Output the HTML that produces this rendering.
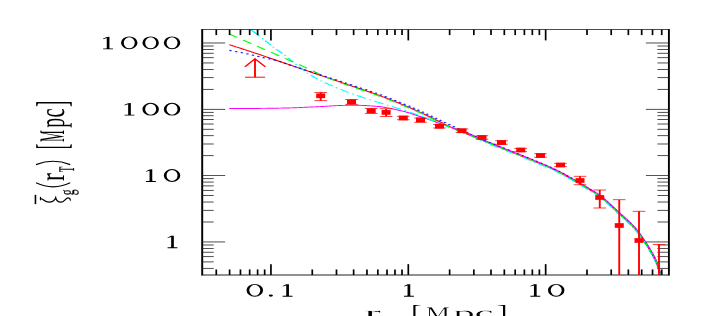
<!DOCTYPE html>
<html><head><meta charset="utf-8"><title>plot</title>
<style>
html,body{margin:0;padding:0;background:#fff;}
body{width:728px;height:316px;overflow:hidden;font-family:"Liberation Serif",serif;}
svg{display:block}
text{font-family:"Liberation Serif",serif;fill:#000;stroke:none;text-rendering:geometricPrecision;}
text.sub{stroke:#000;stroke-width:0.12px;}
</style></head><body>
<svg width="728" height="316" viewBox="0 0 728 316">
<defs><filter id="gs" x="0" y="0" width="728" height="316" filterUnits="userSpaceOnUse"><feColorMatrix type="saturate" values="0"/></filter></defs>
<rect width="728" height="316" fill="#fff"/>
<g transform="scale(2,1)">
<path d="M114.70,44.70 L115.24,45.04 L115.78,45.39 L116.32,45.73 L116.86,46.08 L117.40,46.43 L117.94,46.78 L118.48,47.12 L119.02,47.47 L119.56,47.82 L120.10,48.17 L120.64,48.52 L121.18,48.87 L121.72,49.23 L122.26,49.58 L122.80,49.93 L123.34,50.29 L123.88,50.64 L124.42,51.00 L124.96,51.35 L125.50,51.71 L126.04,52.07 L126.58,52.42 L127.12,52.78 L127.66,53.14 L128.20,53.50 L128.74,53.86 L129.28,54.22 L129.82,54.58 L130.36,54.94 L130.90,55.31 L131.44,55.67 L131.98,56.04 L132.52,56.40 L133.06,56.77 L133.60,57.14 L134.14,57.51 L134.68,57.88 L135.22,58.25 L135.76,58.63 L136.30,59.00 L136.84,59.37 L137.38,59.74 L137.92,60.12 L138.46,60.49 L139.00,60.87 L139.54,61.24 L140.08,61.61 L140.62,61.99 L141.16,62.36 L141.71,62.73 L142.25,63.11 L142.79,63.48 L143.33,63.85 L143.87,64.22 L144.41,64.59 L144.95,64.96 L145.49,65.33 L146.03,65.70 L146.57,66.07 L147.11,66.44 L147.65,66.81 L148.19,67.17 L148.73,67.54 L149.27,67.91 L149.81,68.28 L150.35,68.64 L150.89,69.01 L151.43,69.38 L151.97,69.74 L152.51,70.11 L153.05,70.48 L153.59,70.84 L154.13,71.21 L154.67,71.58 L155.21,71.94 L155.75,72.31 L156.29,72.68 L156.83,73.04 L157.37,73.41 L157.91,73.78 L158.45,74.15 L158.99,74.51 L159.53,74.88 L160.07,75.25 L160.61,75.61 L161.15,75.98 L161.69,76.35 L162.23,76.71 L162.77,77.08 L163.31,77.45 L163.85,77.81 L164.39,78.18 L164.93,78.55 L165.47,78.91 L166.01,79.28 L166.55,79.65 L167.09,80.01 L167.63,80.38 L168.17,80.75 L168.71,81.11 L169.25,81.48 L169.79,81.85 L170.33,82.21 L170.87,82.58 L171.41,82.95 L171.95,83.32 L172.49,83.68 L173.03,84.05 L173.57,84.42 L174.11,84.79 L174.65,85.16 L175.19,85.53 L175.73,85.90 L176.27,86.27 L176.81,86.63 L177.35,87.00 L177.89,87.36 L178.43,87.73 L178.97,88.09 L179.51,88.46 L180.05,88.82 L180.59,89.18 L181.13,89.55 L181.67,89.91 L182.21,90.28 L182.75,90.64 L183.29,91.01 L183.83,91.38 L184.37,91.75 L184.91,92.12 L185.45,92.49 L185.99,92.87 L186.53,93.25 L187.07,93.63 L187.61,94.01 L188.15,94.39 L188.69,94.78 L189.23,95.17 L189.77,95.57 L190.31,95.96 L190.85,96.36 L191.39,96.77 L191.93,97.18 L192.47,97.59 L193.01,98.00 L193.55,98.42 L194.09,98.84 L194.63,99.27 L195.17,99.69 L195.72,100.12 L196.26,100.56 L196.80,100.99 L197.34,101.43 L197.88,101.86 L198.42,102.30 L198.96,102.74 L199.50,103.19 L200.04,103.63 L200.58,104.07 L201.12,104.52 L201.66,104.97 L202.20,105.42 L202.74,105.87 L203.28,106.32 L203.82,106.78 L204.36,107.24 L204.90,107.70 L205.44,108.16 L205.98,108.63 L206.52,109.10 L207.06,109.57 L207.60,110.05 L208.14,110.53 L208.68,111.01 L209.22,111.50 L209.76,111.99 L210.30,112.49 L210.84,112.99 L211.38,113.50 L211.92,114.02 L212.46,114.53 L213.00,115.05 L213.54,115.57 L214.08,116.10 L214.62,116.62 L215.16,117.15 L215.70,117.68 L216.24,118.20 L216.78,118.73 L217.32,119.26 L217.86,119.78 L218.40,120.30 L218.94,120.83 L219.48,121.35 L220.02,121.89 L220.56,122.42 L221.10,122.96 L221.64,123.50 L222.18,124.04 L222.72,124.58 L223.26,125.12 L223.80,125.65 L224.34,126.18 L224.88,126.71 L225.42,127.23 L225.96,127.74 L226.50,128.25 L227.04,128.75 L227.58,129.23 L228.12,129.71 L228.66,130.17 L229.20,130.62 L229.74,131.05 L230.28,131.49 L230.82,131.91 L231.36,132.34 L231.90,132.76 L232.44,133.18 L232.98,133.61 L233.52,134.04 L234.06,134.47 L234.60,134.91 L235.14,135.35 L235.68,135.80 L236.22,136.24 L236.76,136.68 L237.30,137.13 L237.84,137.57 L238.38,138.02 L238.92,138.46 L239.46,138.91 L240.00,139.35 L240.54,139.80 L241.08,140.24 L241.62,140.68 L242.16,141.13 L242.70,141.57 L243.24,142.01 L243.78,142.44 L244.32,142.88 L244.86,143.32 L245.40,143.76 L245.94,144.20 L246.48,144.64 L247.02,145.07 L247.56,145.51 L248.10,145.95 L248.64,146.38 L249.18,146.82 L249.73,147.25 L250.27,147.69 L250.81,148.12 L251.35,148.56 L251.89,148.99 L252.43,149.43 L252.97,149.86 L253.51,150.30 L254.05,150.73 L254.59,151.17 L255.13,151.60 L255.67,152.03 L256.21,152.47 L256.75,152.90 L257.29,153.32 L257.83,153.75 L258.37,154.18 L258.91,154.61 L259.45,155.03 L259.99,155.46 L260.53,155.89 L261.07,156.32 L261.61,156.75 L262.15,157.18 L262.69,157.61 L263.23,158.05 L263.77,158.48 L264.31,158.92 L264.85,159.36 L265.39,159.81 L265.93,160.25 L266.47,160.70 L267.01,161.14 L267.55,161.58 L268.09,162.02 L268.63,162.46 L269.17,162.91 L269.71,163.35 L270.25,163.79 L270.79,164.24 L271.33,164.69 L271.87,165.14 L272.41,165.60 L272.95,166.06 L273.49,166.52 L274.03,166.99 L274.57,167.46 L275.11,167.95 L275.65,168.43 L276.19,168.93 L276.73,169.43 L277.27,169.94 L277.81,170.45 L278.35,170.98 L278.89,171.52 L279.43,172.06 L279.97,172.62 L280.51,173.18 L281.05,173.75 L281.59,174.33 L282.13,174.91 L282.67,175.50 L283.21,176.10 L283.75,176.70 L284.29,177.30 L284.83,177.91 L285.37,178.53 L285.91,179.14 L286.45,179.76 L286.99,180.38 L287.53,181.00 L288.07,181.63 L288.61,182.25 L289.15,182.88 L289.69,183.50 L290.23,184.12 L290.77,184.75 L291.31,185.38 L291.85,186.01 L292.39,186.65 L292.93,187.30 L293.47,187.94 L294.01,188.60 L294.55,189.25 L295.09,189.92 L295.63,190.58 L296.17,191.24 L296.71,191.90 L297.25,192.56 L297.79,193.23 L298.33,193.93 L298.87,194.65 L299.41,195.41 L299.95,196.21 L300.49,197.04 L301.03,197.91 L301.57,198.79 L302.11,199.69 L302.65,200.61 L303.19,201.54 L303.74,202.50 L304.28,203.46 L304.82,204.44 L305.36,205.43 L305.90,206.43 L306.44,207.44 L306.98,208.45 L307.52,209.47 L308.06,210.49 L308.60,211.51 L309.14,212.53 L309.68,213.54 L310.22,214.54 L310.76,215.53 L311.30,216.51 L311.84,217.48 L312.38,218.45 L312.92,219.43 L313.46,220.41 L314.00,221.41 L314.54,222.43 L315.08,223.46 L315.62,224.53 L316.16,225.62 L316.70,226.76 L317.24,227.93 L317.78,229.15 L318.32,230.43 L318.86,231.80 L319.40,233.23 L319.94,234.72 L320.48,236.25 L321.02,237.81 L321.56,239.40 L322.10,240.99 L322.64,242.60 L323.18,244.24 L323.72,245.91 L324.26,247.63 L324.80,249.41 L325.34,251.25 L325.88,253.16 L326.42,255.09 L326.96,257.08 L327.50,259.19 L328.04,261.50 L328.58,264.10 L329.12,267.18 L329.66,270.82 L330.20,274.80" fill="none" stroke="#ff0000" stroke-width="0.95"  />
<path d="M114.62,108.50 L114.98,108.50 L115.34,108.50 L115.70,108.50 L116.06,108.50 L116.42,108.50 L116.78,108.50 L117.14,108.50 L117.50,108.50 L117.86,108.49 L118.22,108.49 L118.58,108.49 L118.94,108.49 L119.30,108.49 L119.66,108.49 L120.02,108.49 L120.38,108.48 L120.74,108.48 L121.10,108.48 L121.46,108.48 L121.82,108.47 L122.18,108.47 L122.54,108.47 L122.90,108.47 L123.26,108.46 L123.62,108.46 L123.98,108.46 L124.34,108.46 L124.70,108.45 L125.06,108.45 L125.42,108.45 L125.78,108.44 L126.14,108.44 L126.50,108.44 L126.86,108.43 L127.22,108.43 L127.58,108.43 L127.94,108.42 L128.30,108.42 L128.66,108.41 L129.02,108.41 L129.38,108.41 L129.74,108.40 L130.10,108.40 L130.46,108.39 L130.82,108.39 L131.18,108.38 L131.54,108.38 L131.90,108.37 L132.26,108.37 L132.62,108.36 L132.98,108.35 L133.34,108.34 L133.70,108.33 L134.06,108.33 L134.42,108.32 L134.78,108.31 L135.14,108.30 L135.50,108.29 L135.86,108.28 L136.22,108.26 L136.58,108.25 L136.94,108.24 L137.30,108.23 L137.66,108.22 L138.02,108.20 L138.38,108.19 L138.74,108.18 L139.10,108.16 L139.46,108.15 L139.82,108.13 L140.18,108.12 L140.54,108.10 L140.90,108.09 L141.26,108.07 L141.62,108.06 L141.98,108.04 L142.34,108.03 L142.70,108.01 L143.06,107.99 L143.42,107.98 L143.78,107.96 L144.14,107.94 L144.50,107.92 L144.86,107.91 L145.22,107.89 L145.58,107.87 L145.94,107.85 L146.30,107.82 L146.66,107.80 L147.02,107.77 L147.38,107.75 L147.74,107.72 L148.09,107.69 L148.45,107.66 L148.81,107.63 L149.17,107.60 L149.53,107.57 L149.89,107.53 L150.25,107.50 L150.61,107.47 L150.97,107.44 L151.33,107.40 L151.69,107.37 L152.05,107.34 L152.41,107.31 L152.77,107.28 L153.13,107.24 L153.49,107.21 L153.85,107.18 L154.21,107.15 L154.57,107.12 L154.93,107.08 L155.29,107.05 L155.65,107.02 L156.01,106.98 L156.37,106.95 L156.73,106.92 L157.09,106.88 L157.45,106.85 L157.81,106.81 L158.17,106.78 L158.53,106.74 L158.89,106.71 L159.25,106.67 L159.61,106.64 L159.97,106.60 L160.33,106.57 L160.69,106.53 L161.05,106.49 L161.41,106.45 L161.77,106.41 L162.13,106.37 L162.49,106.33 L162.85,106.28 L163.21,106.24 L163.57,106.19 L163.93,106.15 L164.29,106.11 L164.65,106.06 L165.01,106.02 L165.37,105.97 L165.73,105.93 L166.09,105.89 L166.45,105.85 L166.81,105.80 L167.17,105.76 L167.53,105.72 L167.89,105.69 L168.25,105.65 L168.61,105.61 L168.97,105.58 L169.33,105.55 L169.69,105.52 L170.05,105.49 L170.41,105.46 L170.77,105.44 L171.13,105.42 L171.49,105.40 L171.85,105.38 L172.21,105.37 L172.57,105.35 L172.93,105.33 L173.29,105.32 L173.65,105.30 L174.01,105.28 L174.37,105.27 L174.73,105.26 L175.09,105.24 L175.45,105.23 L175.81,105.22 L176.17,105.21 L176.53,105.21 L176.89,105.20 L177.25,105.20 L177.61,105.20 L177.97,105.21 L178.33,105.22 L178.69,105.23 L179.05,105.25 L179.41,105.28 L179.77,105.30 L180.13,105.33 L180.49,105.36 L180.85,105.39 L181.20,105.42 L181.56,105.45 L181.92,105.48 L182.28,105.51 L182.64,105.55 L183.00,105.59 L183.36,105.63 L183.72,105.67 L184.08,105.71 L184.44,105.76 L184.80,105.80 L185.16,105.85 L185.52,105.90 L185.88,105.96 L186.24,106.01 L186.60,106.07 L186.96,106.13 L187.32,106.19 L187.68,106.25 L188.04,106.31 L188.40,106.38 L188.76,106.45 L189.12,106.52 L189.48,106.59 L189.84,106.66 L190.20,106.74 L190.56,106.81 L190.92,106.90 L191.28,106.99 L191.64,107.10 L192.00,107.21 L192.36,107.32 L192.72,107.45 L193.08,107.58 L193.44,107.71 L193.80,107.84 L194.16,107.98 L194.52,108.12 L194.88,108.25 L195.24,108.39 L195.60,108.53 L195.96,108.68 L196.32,108.83 L196.68,108.98 L197.04,109.14 L197.40,109.29 L197.76,109.46 L198.12,109.62 L198.48,109.78 L198.84,109.95 L199.20,110.12 L199.56,110.29 L199.92,110.46 L200.28,110.63 L200.64,110.81 L201.00,110.98 L201.36,111.16 L201.72,111.33 L202.08,111.51 L202.44,111.70 L202.80,111.88 L203.16,112.07 L203.52,112.26 L203.88,112.46 L204.24,112.66 L204.60,112.86 L204.96,113.08 L205.32,113.29 L205.68,113.52 L206.04,113.75 L206.40,114.00 L206.76,114.25 L207.12,114.50 L207.48,114.75 L207.84,115.01 L208.20,115.26 L208.56,115.52 L208.92,115.77 L209.28,116.02 L209.64,116.26 L210.00,116.51 L210.36,116.75 L210.72,116.99 L211.08,117.23 L211.44,117.47 L211.80,117.72 L212.16,117.96 L212.52,118.20 L212.88,118.44 L213.24,118.69 L213.60,118.93 L213.96,119.18 L214.31,119.43 L214.67,119.67 L215.03,119.92 L215.39,120.18 L215.75,120.43 L216.11,120.69 L216.47,120.95 L216.83,121.21 L217.19,121.47 L217.55,121.73 L217.91,121.99 L218.27,122.25 L218.63,122.52 L218.99,122.78 L219.35,123.04 L219.71,123.31 L220.07,123.57 L220.43,123.83 L220.79,124.09 L221.15,124.35 L221.51,124.61 L221.87,124.86 L222.23,125.11 L222.59,125.36 L222.95,125.61 L223.31,125.86 L223.67,126.10 L224.03,126.34 L224.39,126.57 L224.75,126.81 L225.11,127.04 L225.47,127.28 L225.83,127.51 L226.19,127.74 L226.55,127.97 L226.91,128.20 L227.27,128.43 L227.63,128.66 L227.99,128.89 L228.35,129.12 L228.71,129.36 L229.07,129.60 L229.43,129.83 L229.79,130.08 L230.15,130.32 L230.51,130.57 L230.87,130.82 L231.23,131.07 L231.59,131.33 L231.95,131.59 L232.31,131.86 L232.67,132.13 L233.03,132.41 L233.39,132.69 L233.75,132.98 L234.11,133.27 L234.47,133.57 L234.83,133.88 L235.19,134.18 L235.55,134.49 L235.91,134.81 L236.27,135.12 L236.63,135.44 L236.99,135.76 L237.35,136.09 L237.71,136.41 L238.07,136.73 L238.43,137.06 L238.79,137.39 L239.15,137.71 L239.51,138.03 L239.87,138.36 L240.23,138.68 L240.59,139.00 L240.95,139.32 L241.31,139.63 L241.67,139.94 L242.03,140.25 L242.39,140.55 L242.75,140.86 L243.11,141.16 L243.47,141.45 L243.83,141.75 L244.19,142.05 L244.55,142.35 L244.91,142.64 L245.27,142.93 L245.63,143.23 L245.99,143.52 L246.35,143.81 L246.71,144.10 L247.07,144.40 L247.42,144.69 L247.78,144.98 L248.14,145.27 L248.50,145.55 L248.86,145.84 L249.22,146.13 L249.58,146.42 L249.94,146.71 L250.30,146.99 L250.66,147.28 L251.02,147.57 L251.38,147.86 L251.74,148.14 L252.10,148.43 L252.46,148.72 L252.82,149.01 L253.18,149.29 L253.54,149.58 L253.90,149.87 L254.26,150.16 L254.62,150.45 L254.98,150.74 L255.34,151.03 L255.70,151.31 L256.06,151.60 L256.42,151.89 L256.78,152.17 L257.14,152.46 L257.50,152.75 L257.86,153.03 L258.22,153.32 L258.58,153.60 L258.94,153.88 L259.30,154.17 L259.66,154.45 L260.02,154.74 L260.38,155.02 L260.74,155.31 L261.10,155.60 L261.46,155.88 L261.82,156.17 L262.18,156.46 L262.54,156.74 L262.90,157.03 L263.26,157.32 L263.62,157.61 L263.98,157.91 L264.34,158.20 L264.70,158.49 L265.06,158.79 L265.42,159.08 L265.78,159.38 L266.14,159.68 L266.50,159.97 L266.86,160.27 L267.22,160.56 L267.58,160.86 L267.94,161.15 L268.30,161.44 L268.66,161.74 L269.02,162.03 L269.38,162.33 L269.74,162.62 L270.10,162.92 L270.46,163.22 L270.82,163.51 L271.18,163.81 L271.54,164.11 L271.90,164.42 L272.26,164.72 L272.62,165.02 L272.98,165.33 L273.34,165.64 L273.70,165.95 L274.06,166.26 L274.42,166.58 L274.78,166.90 L275.14,167.22 L275.50,167.54 L275.86,167.87 L276.22,168.20 L276.58,168.53 L276.94,168.87 L277.30,169.21 L277.66,169.56 L278.02,169.90 L278.38,170.26 L278.74,170.61 L279.10,170.97 L279.46,171.34 L279.82,171.71 L280.18,172.08 L280.53,172.46 L280.89,172.84 L281.25,173.22 L281.61,173.60 L281.97,173.99 L282.33,174.38 L282.69,174.78 L283.05,175.17 L283.41,175.57 L283.77,175.97 L284.13,176.38 L284.49,176.78 L284.85,177.19 L285.21,177.60 L285.57,178.01 L285.93,178.42 L286.29,178.83 L286.65,179.24 L287.01,179.66 L287.37,180.07 L287.73,180.49 L288.09,180.90 L288.45,181.32 L288.81,181.73 L289.17,182.15 L289.53,182.56 L289.89,182.98 L290.25,183.39 L290.61,183.81 L290.97,184.23 L291.33,184.65 L291.69,185.07 L292.05,185.50 L292.41,185.92 L292.77,186.35 L293.13,186.78 L293.49,187.22 L293.85,187.65 L294.21,188.09 L294.57,188.53 L294.93,188.97 L295.29,189.41 L295.65,189.85 L296.01,190.29 L296.37,190.73 L296.73,191.17 L297.09,191.61 L297.45,192.05 L297.81,192.50 L298.17,192.96 L298.53,193.43 L298.89,193.92 L299.25,194.42 L299.61,194.94 L299.97,195.48 L300.33,196.03 L300.69,196.60 L301.05,197.18 L301.41,197.77 L301.77,198.36 L302.13,198.97 L302.49,199.57 L302.85,200.19 L303.21,200.82 L303.57,201.45 L303.93,202.09 L304.29,202.74 L304.65,203.39 L305.01,204.04 L305.37,204.70 L305.73,205.37 L306.09,206.04 L306.45,206.71 L306.81,207.39 L307.17,208.06 L307.53,208.74 L307.89,209.42 L308.25,210.10 L308.61,210.78 L308.97,211.46 L309.33,212.14 L309.69,212.81 L310.05,213.48 L310.41,214.14 L310.77,214.80 L311.13,215.45 L311.49,216.10 L311.85,216.75 L312.21,217.39 L312.57,218.04 L312.93,218.69 L313.29,219.35 L313.64,220.01 L314.00,220.68 L314.36,221.35 L314.72,222.03 L315.08,222.73 L315.44,223.43 L315.80,224.15 L316.16,224.89 L316.52,225.64 L316.88,226.41 L317.24,227.19 L317.60,228.00 L317.96,228.83 L318.32,229.70 L318.68,230.60 L319.04,231.53 L319.40,232.49 L319.76,233.48 L320.12,234.48 L320.48,235.51 L320.84,236.55 L321.20,237.60 L321.56,238.66 L321.92,239.72 L322.28,240.79 L322.64,241.86 L323.00,242.95 L323.36,244.05 L323.72,245.17 L324.08,246.31 L324.44,247.48 L324.80,248.67 L325.16,249.89 L325.52,251.14 L325.88,252.42 L326.24,253.70 L326.60,255.00 L326.96,256.33 L327.32,257.72 L327.68,259.19 L328.04,260.76 L328.40,262.45 L328.76,264.31 L329.12,266.44 L329.48,268.81 L329.84,271.37 L330.20,274.05" fill="none" stroke="#ff00ff" stroke-width="0.95"  />
<path d="M125.30,29.40 L125.64,29.92 L125.98,30.43 L126.33,30.95 L126.67,31.47 L127.01,31.99 L127.35,32.51 L127.69,33.03 L128.04,33.55 L128.38,34.08 L128.72,34.60 L129.06,35.13 L129.40,35.65 L129.75,36.18 L130.09,36.70 L130.43,37.23 L130.77,37.76 L131.12,38.29 L131.46,38.82 L131.80,39.36 L132.14,39.89 L132.48,40.44 L132.83,40.98 L133.17,41.52 L133.51,42.07 L133.85,42.61 L134.19,43.16 L134.54,43.70 L134.88,44.24 L135.22,44.78 L135.56,45.32 L135.90,45.85 L136.25,46.38 L136.59,46.90 L136.93,47.42 L137.27,47.93 L137.61,48.44 L137.96,48.94 L138.30,49.43 L138.64,49.93 L138.98,50.42 L139.32,50.90 L139.67,51.39 L140.01,51.88 L140.35,52.36 L140.69,52.85 L141.04,53.35 L141.38,53.84 L141.72,54.34 L142.06,54.85 L142.40,55.36 L142.75,55.88 L143.09,56.41 L143.43,56.95 L143.77,57.49 L144.11,58.04 L144.46,58.59 L144.80,59.15 L145.14,59.70 L145.48,60.26 L145.82,60.82 L146.17,61.38 L146.51,61.93 L146.85,62.49 L147.19,63.04 L147.53,63.58 L147.88,64.12 L148.22,64.66 L148.56,65.19 L148.90,65.73 L149.24,66.26 L149.59,66.80 L149.93,67.34 L150.27,67.88 L150.61,68.41 L150.96,68.94 L151.30,69.47 L151.64,69.99 L151.98,70.50 L152.32,71.01 L152.67,71.50 L153.01,71.99 L153.35,72.46 L153.69,72.93 L154.03,73.37 L154.38,73.82 L154.72,74.25 L155.06,74.68 L155.40,75.10 L155.74,75.52 L156.09,75.93 L156.43,76.34 L156.77,76.74 L157.11,77.14 L157.45,77.53 L157.80,77.91 L158.14,78.29 L158.48,78.67 L158.82,79.04 L159.16,79.41 L159.51,79.77 L159.85,80.13 L160.19,80.48 L160.53,80.83 L160.88,81.18 L161.22,81.51 L161.56,81.84 L161.90,82.16 L162.24,82.48 L162.59,82.79 L162.93,83.10 L163.27,83.40 L163.61,83.71 L163.95,84.01 L164.30,84.31 L164.64,84.61 L164.98,84.91 L165.32,85.21 L165.66,85.50 L166.01,85.80 L166.35,86.09 L166.69,86.38 L167.03,86.67 L167.37,86.96 L167.72,87.24 L168.06,87.52 L168.40,87.81 L168.74,88.09 L169.08,88.36 L169.43,88.64 L169.77,88.92 L170.11,89.19 L170.45,89.46 L170.80,89.73 L171.14,90.00 L171.48,90.26 L171.82,90.53 L172.16,90.79 L172.51,91.05 L172.85,91.32 L173.19,91.57 L173.53,91.83 L173.87,92.09 L174.22,92.34 L174.56,92.60 L174.90,92.85 L175.24,93.10 L175.58,93.35 L175.93,93.60 L176.27,93.84 L176.61,94.09 L176.95,94.33 L177.29,94.57 L177.64,94.81 L177.98,95.06 L178.32,95.29 L178.66,95.53 L179.01,95.77 L179.35,96.01 L179.69,96.24 L180.03,96.48 L180.37,96.71 L180.72,96.94 L181.06,97.17 L181.40,97.40 L181.74,97.63 L182.08,97.86 L182.43,98.09 L182.77,98.32 L183.11,98.54 L183.45,98.77 L183.79,98.99 L184.14,99.21 L184.48,99.43 L184.82,99.66 L185.16,99.88 L185.50,100.09 L185.85,100.31 L186.19,100.53 L186.53,100.74 L186.87,100.95 L187.21,101.16 L187.56,101.37 L187.90,101.58 L188.24,101.79 L188.58,102.00 L188.93,102.20 L189.27,102.41 L189.61,102.61 L189.95,102.82 L190.29,103.02 L190.64,103.23 L190.98,103.43 L191.32,103.64 L191.66,103.84 L192.00,104.05 L192.35,104.26 L192.69,104.46 L193.03,104.67 L193.37,104.88 L193.71,105.09 L194.06,105.30 L194.40,105.52 L194.74,105.73 L195.08,105.94 L195.42,106.15 L195.77,106.37 L196.11,106.58 L196.45,106.79 L196.79,107.00 L197.13,107.22 L197.48,107.43 L197.82,107.64 L198.16,107.86 L198.50,108.07 L198.85,108.29 L199.19,108.51 L199.53,108.72 L199.87,108.94 L200.21,109.16 L200.56,109.38 L200.90,109.60 L201.24,109.82 L201.58,110.04 L201.92,110.26 L202.27,110.48 L202.61,110.71 L202.95,110.93 L203.29,111.16 L203.63,111.39 L203.98,111.61 L204.32,111.84 L204.66,112.07 L205.00,112.30 L205.34,112.53 L205.69,112.76 L206.03,112.99 L206.37,113.22 L206.71,113.46 L207.05,113.69 L207.40,113.93 L207.74,114.16 L208.08,114.40 L208.42,114.64 L208.77,114.88 L209.11,115.12 L209.45,115.37 L209.79,115.61 L210.13,115.86 L210.48,116.11 L210.82,116.36 L211.16,116.61 L211.50,116.86 L211.84,117.12 L212.19,117.38 L212.53,117.64 L212.87,117.90 L213.21,118.17 L213.55,118.44 L213.90,118.71 L214.24,118.98 L214.58,119.25 L214.92,119.53 L215.26,119.80 L215.61,120.08 L215.95,120.35 L216.29,120.63 L216.63,120.90 L216.97,121.18 L217.32,121.45 L217.66,121.73 L218.00,122.00 L218.34,122.28 L218.69,122.55 L219.03,122.82 L219.37,123.09 L219.71,123.37 L220.05,123.64 L220.40,123.92 L220.74,124.19 L221.08,124.47 L221.42,124.75 L221.76,125.02 L222.11,125.30 L222.45,125.57 L222.79,125.85 L223.13,126.12 L223.47,126.39 L223.82,126.67 L224.16,126.94 L224.50,127.21 L224.84,127.48 L225.18,127.74 L225.53,128.01 L225.87,128.27 L226.21,128.53 L226.55,128.79 L226.89,129.04 L227.24,129.30 L227.58,129.55 L227.92,129.80 L228.26,130.05 L228.61,130.31 L228.95,130.56 L229.29,130.81 L229.63,131.06 L229.97,131.31 L230.32,131.56 L230.66,131.81 L231.00,132.07 L231.34,132.32 L231.68,132.58 L232.03,132.84 L232.37,133.10 L232.71,133.36 L233.05,133.63 L233.39,133.89 L233.74,134.17 L234.08,134.44 L234.42,134.72 L234.76,135.00 L235.10,135.29 L235.45,135.58 L235.79,135.88 L236.13,136.18 L236.47,136.50 L236.81,136.81 L237.16,137.13 L237.50,137.45 L237.84,137.78 L238.18,138.10 L238.53,138.43 L238.87,138.76 L239.21,139.09 L239.55,139.42 L239.89,139.75 L240.24,140.07 L240.58,140.40 L240.92,140.72 L241.26,141.04 L241.60,141.35 L241.95,141.66 L242.29,141.96 L242.63,142.26 L242.97,142.56 L243.31,142.85 L243.66,143.14 L244.00,143.43 L244.34,143.72 L244.68,144.00 L245.02,144.29 L245.37,144.57 L245.71,144.85 L246.05,145.13 L246.39,145.41 L246.73,145.69 L247.08,145.96 L247.42,146.24 L247.76,146.51 L248.10,146.79 L248.45,147.06 L248.79,147.33 L249.13,147.60 L249.47,147.87 L249.81,148.14 L250.16,148.41 L250.50,148.68 L250.84,148.95 L251.18,149.22 L251.52,149.49 L251.87,149.76 L252.21,150.03 L252.55,150.30 L252.89,150.57 L253.23,150.84 L253.58,151.11 L253.92,151.38 L254.26,151.66 L254.60,151.93 L254.94,152.21 L255.29,152.48 L255.63,152.75 L255.97,153.03 L256.31,153.30 L256.65,153.57 L257.00,153.84 L257.34,154.12 L257.68,154.39 L258.02,154.66 L258.37,154.93 L258.71,155.20 L259.05,155.47 L259.39,155.74 L259.73,156.01 L260.08,156.28 L260.42,156.55 L260.76,156.82 L261.10,157.10 L261.44,157.37 L261.79,157.64 L262.13,157.91 L262.47,158.19 L262.81,158.46 L263.15,158.74 L263.50,159.01 L263.84,159.29 L264.18,159.57 L264.52,159.85 L264.86,160.13 L265.21,160.41 L265.55,160.69 L265.89,160.97 L266.23,161.25 L266.57,161.53 L266.92,161.81 L267.26,162.09 L267.60,162.37 L267.94,162.65 L268.29,162.93 L268.63,163.21 L268.97,163.49 L269.31,163.77 L269.65,164.05 L270.00,164.33 L270.34,164.61 L270.68,164.90 L271.02,165.18 L271.36,165.46 L271.71,165.75 L272.05,166.04 L272.39,166.32 L272.73,166.62 L273.07,166.91 L273.42,167.20 L273.76,167.50 L274.10,167.80 L274.44,168.10 L274.78,168.40 L275.13,168.70 L275.47,169.01 L275.81,169.32 L276.15,169.64 L276.49,169.96 L276.84,170.28 L277.18,170.60 L277.52,170.93 L277.86,171.26 L278.21,171.59 L278.55,171.93 L278.89,172.27 L279.23,172.62 L279.57,172.97 L279.92,173.32 L280.26,173.68 L280.60,174.04 L280.94,174.41 L281.28,174.77 L281.63,175.14 L281.97,175.51 L282.31,175.89 L282.65,176.27 L282.99,176.65 L283.34,177.03 L283.68,177.41 L284.02,177.80 L284.36,178.19 L284.70,178.58 L285.05,178.97 L285.39,179.36 L285.73,179.75 L286.07,180.15 L286.42,180.54 L286.76,180.94 L287.10,181.34 L287.44,181.74 L287.78,182.14 L288.13,182.53 L288.47,182.93 L288.81,183.33 L289.15,183.73 L289.49,184.13 L289.84,184.53 L290.18,184.93 L290.52,185.33 L290.86,185.73 L291.20,186.13 L291.55,186.53 L291.89,186.94 L292.23,187.35 L292.57,187.76 L292.91,188.17 L293.26,188.59 L293.60,189.00 L293.94,189.42 L294.28,189.84 L294.62,190.26 L294.97,190.68 L295.31,191.11 L295.65,191.53 L295.99,191.96 L296.34,192.38 L296.68,192.80 L297.02,193.22 L297.36,193.65 L297.70,194.08 L298.05,194.51 L298.39,194.96 L298.73,195.42 L299.07,195.89 L299.41,196.38 L299.76,196.89 L300.10,197.41 L300.44,197.94 L300.78,198.49 L301.12,199.05 L301.47,199.61 L301.81,200.18 L302.15,200.76 L302.49,201.34 L302.83,201.93 L303.18,202.53 L303.52,203.14 L303.86,203.75 L304.20,204.37 L304.54,204.99 L304.89,205.62 L305.23,206.25 L305.57,206.88 L305.91,207.52 L306.26,208.16 L306.60,208.81 L306.94,209.46 L307.28,210.10 L307.62,210.75 L307.97,211.40 L308.31,212.05 L308.65,212.70 L308.99,213.35 L309.33,213.99 L309.68,214.64 L310.02,215.28 L310.36,215.91 L310.70,216.53 L311.04,217.16 L311.39,217.77 L311.73,218.39 L312.07,219.01 L312.41,219.62 L312.75,220.24 L313.10,220.86 L313.44,221.48 L313.78,222.11 L314.12,222.75 L314.46,223.39 L314.81,224.04 L315.15,224.71 L315.49,225.38 L315.83,226.06 L316.18,226.76 L316.52,227.47 L316.86,228.20 L317.20,228.95 L317.54,229.71 L317.89,230.50 L318.23,231.31 L318.57,232.16 L318.91,233.04 L319.25,233.94 L319.60,234.87 L319.94,235.81 L320.28,236.78 L320.62,237.76 L320.96,238.75 L321.31,239.75 L321.65,240.76 L321.99,241.77 L322.33,242.79 L322.67,243.81 L323.02,244.84 L323.36,245.89 L323.70,246.95 L324.04,248.04 L324.38,249.14 L324.73,250.27 L325.07,251.42 L325.41,252.60 L325.75,253.81 L326.10,255.03 L326.44,256.26 L326.78,257.51 L327.12,258.79 L327.46,260.14 L327.81,261.57 L328.15,263.10 L328.49,264.74 L328.83,266.56 L329.17,268.63 L329.52,270.91 L329.86,273.35 L330.20,275.90" fill="none" stroke="#00ffff" stroke-width="0.95" stroke-dasharray="5.2 2.15 0.9 2.08" stroke-dashoffset="7.26"/>
<path d="M125.30,29.40 L125.64,29.92 L125.98,30.43 L126.33,30.95 L126.67,31.47 L127.01,31.99 L127.35,32.51 L127.69,33.03" fill="none" stroke="#00ffff" stroke-width="0.95"  />
<path d="M114.60,34.00 L114.96,34.31 L115.32,34.63 L115.68,34.94 L116.04,35.25 L116.40,35.57 L116.76,35.88 L117.12,36.20 L117.48,36.51 L117.84,36.82 L118.20,37.14 L118.56,37.45 L118.92,37.77 L119.28,38.08 L119.64,38.40 L120.00,38.71 L120.36,39.03 L120.72,39.34 L121.08,39.66 L121.44,39.97 L121.80,40.29 L122.16,40.60 L122.52,40.92 L122.88,41.23 L123.24,41.55 L123.60,41.86 L123.96,42.18 L124.32,42.50 L124.68,42.81 L125.04,43.13 L125.40,43.44 L125.76,43.76 L126.12,44.08 L126.48,44.39 L126.84,44.71 L127.20,45.02 L127.56,45.34 L127.92,45.66 L128.28,45.97 L128.64,46.29 L129.00,46.60 L129.36,46.92 L129.72,47.24 L130.08,47.55 L130.44,47.87 L130.80,48.19 L131.16,48.50 L131.52,48.82 L131.88,49.14 L132.24,49.45 L132.60,49.77 L132.96,50.08 L133.32,50.40 L133.68,50.72 L134.04,51.03 L134.40,51.35 L134.76,51.66 L135.12,51.98 L135.48,52.29 L135.84,52.61 L136.20,52.92 L136.56,53.23 L136.92,53.54 L137.28,53.86 L137.64,54.17 L138.00,54.48 L138.36,54.79 L138.72,55.10 L139.08,55.41 L139.44,55.72 L139.80,56.04 L140.16,56.35 L140.52,56.66 L140.88,56.97 L141.24,57.29 L141.59,57.60 L141.95,57.91 L142.31,58.23 L142.67,58.54 L143.03,58.86 L143.39,59.18 L143.75,59.50 L144.11,59.82 L144.47,60.14 L144.83,60.46 L145.19,60.78 L145.55,61.10 L145.91,61.42 L146.27,61.74 L146.63,62.06 L146.99,62.38 L147.35,62.70 L147.71,63.03 L148.07,63.35 L148.43,63.67 L148.79,63.99 L149.15,64.31 L149.51,64.62 L149.87,64.94 L150.23,65.26 L150.59,65.57 L150.95,65.88 L151.31,66.19 L151.67,66.50 L152.03,66.82 L152.39,67.13 L152.75,67.45 L153.11,67.77 L153.47,68.09 L153.83,68.42 L154.19,68.75 L154.55,69.09 L154.91,69.44 L155.27,69.78 L155.63,70.13 L155.99,70.48 L156.35,70.84 L156.71,71.19 L157.07,71.55 L157.43,71.90 L157.79,72.26 L158.15,72.61 L158.51,72.96 L158.87,73.31 L159.23,73.65 L159.59,73.99 L159.95,74.32 L160.31,74.65 L160.67,74.97 L161.03,75.29 L161.39,75.61 L161.75,75.92 L162.11,76.23 L162.47,76.54 L162.83,76.84 L163.19,77.14 L163.55,77.44 L163.91,77.74 L164.27,78.04 L164.63,78.33 L164.99,78.62 L165.35,78.91 L165.71,79.20 L166.07,79.48 L166.43,79.77 L166.79,80.05 L167.15,80.33 L167.51,80.61 L167.87,80.88 L168.23,81.16 L168.59,81.43 L168.95,81.70 L169.31,81.97 L169.67,82.23 L170.03,82.50 L170.39,82.76 L170.75,83.02 L171.11,83.28 L171.47,83.54 L171.83,83.80 L172.19,84.06 L172.55,84.31 L172.91,84.57 L173.27,84.82 L173.63,85.08 L173.99,85.33 L174.35,85.59 L174.71,85.84 L175.07,86.10 L175.43,86.35 L175.79,86.61 L176.15,86.86 L176.51,87.11 L176.87,87.36 L177.23,87.61 L177.59,87.85 L177.95,88.10 L178.31,88.35 L178.67,88.59 L179.03,88.84 L179.39,89.08 L179.75,89.32 L180.11,89.56 L180.47,89.81 L180.83,90.05 L181.19,90.29 L181.55,90.53 L181.91,90.77 L182.27,91.02 L182.63,91.26 L182.99,91.50 L183.35,91.74 L183.71,91.99 L184.07,92.23 L184.43,92.47 L184.79,92.72 L185.15,92.96 L185.51,93.21 L185.87,93.46 L186.23,93.70 L186.59,93.95 L186.95,94.20 L187.31,94.45 L187.67,94.71 L188.03,94.96 L188.39,95.22 L188.75,95.47 L189.11,95.73 L189.47,95.99 L189.83,96.25 L190.19,96.52 L190.55,96.78 L190.91,97.05 L191.27,97.32 L191.63,97.59 L191.99,97.86 L192.35,98.14 L192.71,98.41 L193.07,98.69 L193.43,98.97 L193.79,99.25 L194.15,99.53 L194.51,99.82 L194.87,100.10 L195.23,100.38 L195.58,100.67 L195.94,100.96 L196.30,101.25 L196.66,101.53 L197.02,101.82 L197.38,102.12 L197.74,102.41 L198.10,102.70 L198.46,102.99 L198.82,103.29 L199.18,103.58 L199.54,103.88 L199.90,104.17 L200.26,104.47 L200.62,104.76 L200.98,105.06 L201.34,105.36 L201.70,105.66 L202.06,105.96 L202.42,106.26 L202.78,106.56 L203.14,106.86 L203.50,107.16 L203.86,107.47 L204.22,107.77 L204.58,108.08 L204.94,108.39 L205.30,108.70 L205.66,109.01 L206.02,109.32 L206.38,109.63 L206.74,109.94 L207.10,110.26 L207.46,110.58 L207.82,110.90 L208.18,111.22 L208.54,111.54 L208.90,111.86 L209.26,112.19 L209.62,112.52 L209.98,112.85 L210.34,113.18 L210.70,113.52 L211.06,113.86 L211.42,114.20 L211.78,114.54 L212.14,114.89 L212.50,115.24 L212.86,115.58 L213.22,115.93 L213.58,116.28 L213.94,116.63 L214.30,116.99 L214.66,117.34 L215.02,117.69 L215.38,118.04 L215.74,118.39 L216.10,118.74 L216.46,119.09 L216.82,119.44 L217.18,119.79 L217.54,120.13 L217.90,120.48 L218.26,120.82 L218.62,121.16 L218.98,121.51 L219.34,121.85 L219.70,122.20 L220.06,122.55 L220.42,122.89 L220.78,123.24 L221.14,123.59 L221.50,123.94 L221.86,124.29 L222.22,124.64 L222.58,124.99 L222.94,125.34 L223.30,125.68 L223.66,126.03 L224.02,126.37 L224.38,126.71 L224.74,127.05 L225.10,127.38 L225.46,127.72 L225.82,128.05 L226.18,128.37 L226.54,128.69 L226.90,129.01 L227.26,129.33 L227.62,129.63 L227.98,129.94 L228.34,130.24 L228.70,130.53 L229.06,130.81 L229.42,131.10 L229.78,131.37 L230.14,131.65 L230.50,131.92 L230.86,132.18 L231.22,132.45 L231.58,132.72 L231.94,132.99 L232.30,133.25 L232.66,133.53 L233.02,133.80 L233.38,134.07 L233.74,134.35" fill="none" stroke="#00ff00" stroke-width="0.95" stroke-dasharray="5.3 3.98" />
<path d="M234.10,134.64 L234.46,134.92 L234.82,135.21 L235.18,135.50 L235.54,135.79 L235.90,136.08 L236.26,136.37 L236.62,136.67 L236.98,136.96 L237.34,137.26 L237.70,137.55 L238.06,137.85 L238.42,138.15 L238.78,138.44 L239.14,138.74 L239.50,139.04 L239.86,139.33 L240.22,139.63 L240.58,139.93 L240.94,140.22 L241.30,140.52 L241.66,140.81 L242.02,141.11 L242.38,141.40 L242.74,141.69 L243.10,141.98 L243.46,142.28 L243.82,142.57 L244.18,142.86 L244.54,143.15 L244.90,143.44 L245.26,143.74 L245.62,144.03 L245.98,144.32 L246.34,144.61 L246.70,144.90 L247.06,145.19 L247.42,145.48 L247.78,145.78 L248.14,146.07 L248.50,146.36 L248.86,146.65 L249.22,146.94 L249.57,147.23 L249.93,147.52 L250.29,147.81 L250.65,148.10 L251.01,148.39 L251.37,148.68 L251.73,148.97 L252.09,149.26 L252.45,149.55 L252.81,149.84 L253.17,150.13 L253.53,150.42 L253.89,150.71 L254.25,151.00 L254.61,151.29 L254.97,151.58 L255.33,151.87 L255.69,152.16 L256.05,152.44 L256.41,152.73 L256.77,153.02 L257.13,153.30 L257.49,153.59 L257.85,153.87 L258.21,154.16 L258.57,154.44 L258.93,154.73 L259.29,155.01 L259.65,155.30 L260.01,155.58 L260.37,155.87 L260.73,156.15 L261.09,156.44 L261.45,156.73 L261.81,157.01 L262.17,157.30 L262.53,157.59 L262.89,157.88 L263.25,158.17 L263.61,158.46 L263.97,158.75 L264.33,159.04 L264.69,159.34 L265.05,159.63 L265.41,159.93 L265.77,160.22 L266.13,160.52 L266.49,160.82 L266.85,161.11 L267.21,161.41 L267.57,161.70 L267.93,161.99 L268.29,162.29 L268.65,162.58 L269.01,162.88 L269.37,163.17 L269.73,163.47 L270.09,163.76 L270.45,164.06 L270.81,164.36 L271.17,164.66 L271.53,164.96 L271.89,165.26 L272.25,165.56 L272.61,165.87 L272.97,166.18 L273.33,166.48 L273.69,166.80 L274.05,167.11 L274.41,167.42 L274.77,167.74 L275.13,168.06 L275.49,168.39 L275.85,168.71 L276.21,169.04 L276.57,169.38 L276.93,169.72 L277.29,170.06 L277.65,170.40 L278.01,170.75 L278.37,171.10 L278.73,171.46 L279.09,171.82 L279.45,172.18 L279.81,172.55 L280.17,172.92 L280.53,173.30 L280.89,173.68 L281.25,174.06 L281.61,174.45 L281.97,174.84 L282.33,175.23 L282.69,175.62 L283.05,176.02 L283.41,176.42 L283.77,176.82 L284.13,177.22 L284.49,177.63 L284.85,178.03 L285.21,178.44 L285.57,178.85 L285.93,179.26 L286.29,179.67 L286.65,180.09 L287.01,180.50 L287.37,180.91 L287.73,181.33 L288.09,181.75 L288.45,182.16 L288.81,182.58 L289.17,182.99 L289.53,183.41 L289.89,183.82 L290.25,184.24 L290.61,184.65 L290.97,185.07 L291.33,185.49 L291.69,185.92 L292.05,186.34 L292.41,186.77 L292.77,187.20 L293.13,187.63 L293.49,188.06 L293.85,188.50 L294.21,188.93 L294.57,189.37 L294.93,189.81 L295.29,190.25 L295.65,190.70 L296.01,191.14 L296.37,191.58 L296.73,192.01 L297.09,192.45 L297.45,192.90 L297.81,193.35 L298.17,193.81 L298.53,194.28 L298.89,194.76 L299.25,195.26 L299.61,195.78 L299.97,196.32 L300.33,196.88 L300.69,197.44 L301.05,198.02 L301.41,198.61 L301.77,199.21 L302.13,199.81 L302.49,200.42 L302.85,201.04 L303.21,201.66 L303.56,202.29 L303.92,202.93 L304.28,203.58 L304.64,204.23 L305.00,204.89 L305.36,205.55 L305.72,206.22 L306.08,206.88 L306.44,207.56 L306.80,208.23 L307.16,208.91 L307.52,209.59 L307.88,210.27 L308.24,210.95 L308.60,211.63 L308.96,212.30 L309.32,212.98 L309.68,213.66 L310.04,214.33 L310.40,214.99 L310.76,215.64 L311.12,216.30 L311.48,216.95 L311.84,217.59 L312.20,218.24 L312.56,218.89 L312.92,219.54 L313.28,220.20 L313.64,220.86 L314.00,221.52 L314.36,222.20 L314.72,222.88 L315.08,223.57 L315.44,224.28 L315.80,225.00 L316.16,225.74 L316.52,226.49 L316.88,227.25 L317.24,228.04 L317.60,228.85 L317.96,229.68 L318.32,230.54 L318.68,231.45 L319.04,232.38 L319.40,233.34 L319.76,234.32 L320.12,235.33 L320.48,236.36 L320.84,237.40 L321.20,238.45 L321.56,239.51 L321.92,240.57 L322.28,241.63 L322.64,242.71 L323.00,243.80 L323.36,244.90 L323.72,246.02 L324.08,247.16 L324.44,248.32 L324.80,249.51 L325.16,250.73 L325.52,251.99 L325.88,253.27 L326.24,254.55 L326.60,255.85 L326.96,257.18 L327.32,258.57 L327.68,260.04 L328.04,261.61 L328.40,263.30 L328.76,265.15 L329.12,267.29 L329.48,269.66 L329.84,272.22 L330.20,274.90" fill="none" stroke="#00ff00" stroke-width="0.75" stroke-dasharray="5.3 3.98" stroke-dashoffset="7.84"/>
<path d="M287.39,180.01 L287.75,180.44 L288.11,180.86 L288.47,181.28 L288.83,181.71 L289.19,182.13 L289.55,182.55 L289.91,182.98 L290.27,183.40 L290.63,183.82 L290.99,184.25 L291.35,184.68 L291.71,185.11 L292.06,185.54 L292.42,185.98 L292.78,186.41 L293.14,186.85 L293.50,187.30 L293.86,187.74 L294.22,188.18 L294.58,188.63 L294.94,189.08 L295.30,189.53 L295.66,189.98 L296.02,190.43 L296.38,190.88 L296.74,191.32 L297.10,191.77 L297.46,192.22 L297.82,192.68 L298.18,193.15 L298.54,193.63 L298.90,194.12 L299.26,194.63 L299.62,195.16 L299.98,195.71 L300.34,196.27 L300.70,196.85 L301.06,197.44 L301.42,198.03 L301.78,198.64 L302.14,199.25 L302.50,199.87 L302.86,200.49 L303.22,201.13 L303.58,201.77 L303.94,202.42 L304.30,203.07 L304.66,203.73 L305.02,204.40 L305.38,205.07 L305.74,205.75 L306.10,206.42 L306.46,207.11 L306.82,207.79 L307.17,208.47 L307.53,209.16 L307.89,209.85 L308.25,210.53 L308.61,211.22 L308.97,211.90 L309.33,212.59 L309.69,213.27 L310.05,213.94 L310.41,214.60 L310.77,215.26 L311.13,215.92 L311.49,216.57 L311.85,217.22 L312.21,217.86 L312.57,218.51 L312.93,219.16 L313.29,219.82 L313.65,220.48 L314.01,221.14 L314.37,221.82 L314.73,222.50 L315.09,223.19 L315.45,223.90 L315.81,224.62 L316.17,225.35 L316.53,226.10 L316.89,226.87 L317.25,227.65 L317.61,228.46 L317.97,229.29 L318.33,230.16 L318.69,231.06 L319.05,231.99 L319.41,232.95 L319.77,233.94 L320.13,234.95 L320.49,235.97 L320.85,237.01 L321.21,238.06 L321.57,239.12 L321.93,240.18 L322.29,241.25 L322.64,242.32 L323.00,243.41 L323.36,244.51 L323.72,245.63 L324.08,246.77 L324.44,247.93 L324.80,249.12 L325.16,250.34 L325.52,251.59 L325.88,252.88 L326.24,254.16 L326.60,255.46 L326.96,256.79 L327.32,258.17 L327.68,259.64 L328.04,261.21 L328.40,262.90 L328.76,264.76 L329.12,266.89 L329.48,269.26 L329.84,271.82 L330.20,274.50" fill="none" stroke="#0000ff" stroke-width="0.7" stroke-dasharray="1.0 2.02" stroke-opacity="0.5"/>
<path d="M234.86,134.18 L235.22,134.49 L235.58,134.80 L235.94,135.10 L236.30,135.40 L236.66,135.70 L237.02,135.99 L237.38,136.29 L237.74,136.58 L238.10,136.87 L238.46,137.16 L238.82,137.45 L239.18,137.73 L239.54,138.02 L239.90,138.31 L240.26,138.60 L240.62,138.88 L240.98,139.17 L241.34,139.46 L241.70,139.75 L242.06,140.04 L242.42,140.33 L242.78,140.63 L243.14,140.92 L243.50,141.21 L243.86,141.50 L244.22,141.80 L244.58,142.09 L244.94,142.38 L245.30,142.67 L245.65,142.96 L246.01,143.26 L246.37,143.55 L246.73,143.84 L247.09,144.13 L247.45,144.42 L247.81,144.71 L248.17,145.00 L248.53,145.29 L248.89,145.58 L249.25,145.87 L249.61,146.16 L249.97,146.45 L250.33,146.74 L250.69,147.03 L251.05,147.32 L251.41,147.61 L251.77,147.90 L252.13,148.19 L252.49,148.48 L252.85,148.77 L253.21,149.06 L253.57,149.35 L253.93,149.64 L254.29,149.93 L254.65,150.22 L255.01,150.51 L255.37,150.80 L255.73,151.08 L256.09,151.37 L256.45,151.66 L256.81,151.94 L257.17,152.23 L257.53,152.52 L257.89,152.80 L258.25,153.09 L258.61,153.37 L258.97,153.65 L259.33,153.94 L259.69,154.22 L260.05,154.51 L260.41,154.79 L260.77,155.08 L261.12,155.36 L261.48,155.65 L261.84,155.94 L262.20,156.23 L262.56,156.51 L262.92,156.80 L263.28,157.09 L263.64,157.38 L264.00,157.67 L264.36,157.97 L264.72,158.26 L265.08,158.56 L265.44,158.85 L265.80,159.15 L266.16,159.44 L266.52,159.74 L266.88,160.03 L267.24,160.33 L267.60,160.62 L267.96,160.91 L268.32,161.21 L268.68,161.50 L269.04,161.79 L269.40,162.09 L269.76,162.38 L270.12,162.68 L270.48,162.97 L270.84,163.27 L271.20,163.57 L271.56,163.87 L271.92,164.17 L272.28,164.47 L272.64,164.78 L273.00,165.09 L273.36,165.39 L273.72,165.71 L274.08,166.02 L274.44,166.33 L274.80,166.65 L275.16,166.98 L275.52,167.30 L275.88,167.63 L276.24,167.96 L276.59,168.30 L276.95,168.63 L277.31,168.98 L277.67,169.32 L278.03,169.67 L278.39,170.03 L278.75,170.39 L279.11,170.76 L279.47,171.13 L279.83,171.50 L280.19,171.88 L280.55,172.26 L280.91,172.64 L281.27,173.03 L281.63,173.42 L281.99,173.82 L282.35,174.22 L282.71,174.62 L283.07,175.02 L283.43,175.43 L283.79,175.84 L284.15,176.25 L284.51,176.66 L284.87,177.07 L285.23,177.49 L285.59,177.91 L285.95,178.33 L286.31,178.75 L286.67,179.17 L287.03,179.59 L287.39,180.01" fill="none" stroke="#0000ff" stroke-width="0.9" stroke-dasharray="1.1 1.92" stroke-opacity="0.75" stroke-dashoffset="2.70"/>
<path d="M114.70,50.40 L115.06,50.52 L115.42,50.65 L115.78,50.77 L116.14,50.90 L116.50,51.03 L116.86,51.16 L117.22,51.29 L117.58,51.43 L117.94,51.56 L118.30,51.70 L118.66,51.84 L119.02,51.97 L119.38,52.11 L119.74,52.26 L120.10,52.40 L120.46,52.54 L120.82,52.69 L121.18,52.83 L121.54,52.98 L121.90,53.14 L122.26,53.29 L122.61,53.44 L122.97,53.60 L123.33,53.76 L123.69,53.92 L124.05,54.08 L124.41,54.24 L124.77,54.40 L125.13,54.56 L125.49,54.72 L125.85,54.89 L126.21,55.05 L126.57,55.22 L126.93,55.38 L127.29,55.55 L127.65,55.72 L128.01,55.90 L128.37,56.07 L128.73,56.24 L129.09,56.42 L129.45,56.59 L129.81,56.76 L130.17,56.94 L130.53,57.11 L130.89,57.28 L131.25,57.45 L131.61,57.61 L131.97,57.78 L132.33,57.94 L132.69,58.09 L133.05,58.24 L133.41,58.39 L133.77,58.54 L134.13,58.69 L134.49,58.84 L134.85,58.99 L135.21,59.14 L135.57,59.29 L135.93,59.45 L136.29,59.61 L136.65,59.78 L137.01,59.95 L137.37,60.13 L137.73,60.32 L138.08,60.51 L138.44,60.71 L138.80,60.92 L139.16,61.14 L139.52,61.36 L139.88,61.58 L140.24,61.81 L140.60,62.04 L140.96,62.28 L141.32,62.52 L141.68,62.76 L142.04,63.01 L142.40,63.25 L142.76,63.50 L143.12,63.74 L143.48,63.99 L143.84,64.23 L144.20,64.47 L144.56,64.71 L144.92,64.95 L145.28,65.18 L145.64,65.42 L146.00,65.66 L146.36,65.90 L146.72,66.14 L147.08,66.38 L147.44,66.62 L147.80,66.86 L148.16,67.11 L148.52,67.35 L148.88,67.59 L149.24,67.84 L149.60,68.08 L149.96,68.32 L150.32,68.56 L150.68,68.80 L151.04,69.04 L151.40,69.28 L151.76,69.52 L152.12,69.75 L152.48,69.98 L152.84,70.22 L153.19,70.45 L153.55,70.67 L153.91,70.90 L154.27,71.13 L154.63,71.35 L154.99,71.58 L155.35,71.80 L155.71,72.02 L156.07,72.25 L156.43,72.47 L156.79,72.69 L157.15,72.92 L157.51,73.14 L157.87,73.36 L158.23,73.59 L158.59,73.81 L158.95,74.04 L159.31,74.26 L159.67,74.49 L160.03,74.72 L160.39,74.95 L160.75,75.18 L161.11,75.41 L161.47,75.64 L161.83,75.87 L162.19,76.10 L162.55,76.33 L162.91,76.57 L163.27,76.80 L163.63,77.03 L163.99,77.26 L164.35,77.50 L164.71,77.73 L165.07,77.96 L165.43,78.20 L165.79,78.43 L166.15,78.67 L166.51,78.90 L166.87,79.14 L167.23,79.37 L167.59,79.61 L167.95,79.84 L168.31,80.08 L168.66,80.31 L169.02,80.55 L169.38,80.79 L169.74,81.02 L170.10,81.26 L170.46,81.50 L170.82,81.73 L171.18,81.97 L171.54,82.21 L171.90,82.45 L172.26,82.68 L172.62,82.92 L172.98,83.16 L173.34,83.40 L173.70,83.64 L174.06,83.88 L174.42,84.12 L174.78,84.35 L175.14,84.59 L175.50,84.83 L175.86,85.07 L176.22,85.31 L176.58,85.55 L176.94,85.78 L177.30,86.02 L177.66,86.26 L178.02,86.50 L178.38,86.73 L178.74,86.97 L179.10,87.21 L179.46,87.45 L179.82,87.68 L180.18,87.92 L180.54,88.16 L180.90,88.40 L181.26,88.63 L181.62,88.87 L181.98,89.11 L182.34,89.35 L182.70,89.59 L183.06,89.83 L183.42,90.07 L183.78,90.31 L184.13,90.56 L184.49,90.80 L184.85,91.04 L185.21,91.29 L185.57,91.53 L185.93,91.78 L186.29,92.03 L186.65,92.27 L187.01,92.52 L187.37,92.77 L187.73,93.02 L188.09,93.28 L188.45,93.53 L188.81,93.79 L189.17,94.04 L189.53,94.30 L189.89,94.56 L190.25,94.82 L190.61,95.08 L190.97,95.34 L191.33,95.61 L191.69,95.88 L192.05,96.15 L192.41,96.42 L192.77,96.69 L193.13,96.96 L193.49,97.24 L193.85,97.51 L194.21,97.79 L194.57,98.07 L194.93,98.35 L195.29,98.63 L195.65,98.91 L196.01,99.20 L196.37,99.48 L196.73,99.77 L197.09,100.05 L197.45,100.34 L197.81,100.63 L198.17,100.92 L198.53,101.21 L198.89,101.50 L199.25,101.79 L199.60,102.08 L199.96,102.37 L200.32,102.66 L200.68,102.96 L201.04,103.25 L201.40,103.54 L201.76,103.84 L202.12,104.14 L202.48,104.43 L202.84,104.73 L203.20,105.03 L203.56,105.33 L203.92,105.63 L204.28,105.93 L204.64,106.24 L205.00,106.54 L205.36,106.85 L205.72,107.15 L206.08,107.46 L206.44,107.77 L206.80,108.08 L207.16,108.39 L207.52,108.70 L207.88,109.02 L208.24,109.33 L208.60,109.65 L208.96,109.96 L209.32,110.28 L209.68,110.60 L210.04,110.93 L210.40,111.25 L210.76,111.58 L211.12,111.90 L211.48,112.23 L211.84,112.56 L212.20,112.90 L212.56,113.23 L212.92,113.56 L213.28,113.90 L213.64,114.24 L214.00,114.57 L214.36,114.91 L214.72,115.25 L215.07,115.59 L215.43,115.92 L215.79,116.26 L216.15,116.60 L216.51,116.94 L216.87,117.28 L217.23,117.62 L217.59,117.95 L217.95,118.29 L218.31,118.63 L218.67,118.96 L219.03,119.30 L219.39,119.63 L219.75,119.97 L220.11,120.30 L220.47,120.64 L220.83,120.97 L221.19,121.31 L221.55,121.64 L221.91,121.98 L222.27,122.31 L222.63,122.65 L222.99,122.99 L223.35,123.32 L223.71,123.66 L224.07,124.00 L224.43,124.33 L224.79,124.67 L225.15,125.01 L225.51,125.35 L225.87,125.69 L226.23,126.03 L226.59,126.36 L226.95,126.70 L227.31,127.04 L227.67,127.38 L228.03,127.73 L228.39,128.07 L228.75,128.41 L229.11,128.76 L229.47,129.11 L229.83,129.47 L230.18,129.82 L230.54,130.17 L230.90,130.52 L231.26,130.87 L231.62,131.22 L231.98,131.57 L232.34,131.91 L232.70,132.25 L233.06,132.59 L233.42,132.92 L233.78,133.24 L234.14,133.56 L234.50,133.87 L234.86,134.18" fill="none" stroke="#0000ff" stroke-width="1.15" stroke-dasharray="1.2 1.82" stroke-opacity="0.85"/>
<line x1="101.10" y1="29.20" x2="101.10" y2="275.35" stroke="#000" stroke-width="0.98" />
<line x1="334.45" y1="29.20" x2="334.45" y2="275.35" stroke="#000" stroke-width="0.95" />
<line x1="100.65" y1="29.60" x2="334.90" y2="29.60" stroke="#111" stroke-width="0.85" />
<line x1="100.65" y1="274.95" x2="334.90" y2="274.95" stroke="#222" stroke-width="0.85" />
<line x1="108.14" y1="274.95" x2="108.14" y2="269.45" stroke="#000" stroke-width="0.85" />
<line x1="108.14" y1="29.60" x2="108.14" y2="35.10" stroke="#000" stroke-width="0.85" />
<line x1="114.80" y1="274.95" x2="114.80" y2="269.45" stroke="#000" stroke-width="0.85" />
<line x1="114.80" y1="29.60" x2="114.80" y2="35.10" stroke="#000" stroke-width="0.85" />
<line x1="120.23" y1="274.95" x2="120.23" y2="269.45" stroke="#000" stroke-width="0.85" />
<line x1="120.23" y1="29.60" x2="120.23" y2="35.10" stroke="#000" stroke-width="0.85" />
<line x1="124.83" y1="274.95" x2="124.83" y2="269.45" stroke="#000" stroke-width="0.85" />
<line x1="124.83" y1="29.60" x2="124.83" y2="35.10" stroke="#000" stroke-width="0.85" />
<line x1="128.81" y1="274.95" x2="128.81" y2="269.45" stroke="#000" stroke-width="0.85" />
<line x1="128.81" y1="29.60" x2="128.81" y2="35.10" stroke="#000" stroke-width="0.85" />
<line x1="132.33" y1="274.95" x2="132.33" y2="269.45" stroke="#000" stroke-width="0.85" />
<line x1="132.33" y1="29.60" x2="132.33" y2="35.10" stroke="#000" stroke-width="0.85" />
<line x1="135.47" y1="274.95" x2="135.47" y2="264.15" stroke="#000" stroke-width="0.85" />
<line x1="135.47" y1="29.60" x2="135.47" y2="40.40" stroke="#000" stroke-width="0.85" />
<line x1="156.14" y1="274.95" x2="156.14" y2="269.45" stroke="#000" stroke-width="0.85" />
<line x1="156.14" y1="29.60" x2="156.14" y2="35.10" stroke="#000" stroke-width="0.85" />
<line x1="168.24" y1="274.95" x2="168.24" y2="269.45" stroke="#000" stroke-width="0.85" />
<line x1="168.24" y1="29.60" x2="168.24" y2="35.10" stroke="#000" stroke-width="0.85" />
<line x1="176.82" y1="274.95" x2="176.82" y2="269.45" stroke="#000" stroke-width="0.85" />
<line x1="176.82" y1="29.60" x2="176.82" y2="35.10" stroke="#000" stroke-width="0.85" />
<line x1="183.48" y1="274.95" x2="183.48" y2="269.45" stroke="#000" stroke-width="0.85" />
<line x1="183.48" y1="29.60" x2="183.48" y2="35.10" stroke="#000" stroke-width="0.85" />
<line x1="188.91" y1="274.95" x2="188.91" y2="269.45" stroke="#000" stroke-width="0.85" />
<line x1="188.91" y1="29.60" x2="188.91" y2="35.10" stroke="#000" stroke-width="0.85" />
<line x1="193.51" y1="274.95" x2="193.51" y2="269.45" stroke="#000" stroke-width="0.85" />
<line x1="193.51" y1="29.60" x2="193.51" y2="35.10" stroke="#000" stroke-width="0.85" />
<line x1="197.49" y1="274.95" x2="197.49" y2="269.45" stroke="#000" stroke-width="0.85" />
<line x1="197.49" y1="29.60" x2="197.49" y2="35.10" stroke="#000" stroke-width="0.85" />
<line x1="201.01" y1="274.95" x2="201.01" y2="269.45" stroke="#000" stroke-width="0.85" />
<line x1="201.01" y1="29.60" x2="201.01" y2="35.10" stroke="#000" stroke-width="0.85" />
<line x1="204.15" y1="274.95" x2="204.15" y2="264.15" stroke="#000" stroke-width="0.85" />
<line x1="204.15" y1="29.60" x2="204.15" y2="40.40" stroke="#000" stroke-width="0.85" />
<line x1="224.82" y1="274.95" x2="224.82" y2="269.45" stroke="#000" stroke-width="0.85" />
<line x1="224.82" y1="29.60" x2="224.82" y2="35.10" stroke="#000" stroke-width="0.85" />
<line x1="236.92" y1="274.95" x2="236.92" y2="269.45" stroke="#000" stroke-width="0.85" />
<line x1="236.92" y1="29.60" x2="236.92" y2="35.10" stroke="#000" stroke-width="0.85" />
<line x1="245.50" y1="274.95" x2="245.50" y2="269.45" stroke="#000" stroke-width="0.85" />
<line x1="245.50" y1="29.60" x2="245.50" y2="35.10" stroke="#000" stroke-width="0.85" />
<line x1="252.16" y1="274.95" x2="252.16" y2="269.45" stroke="#000" stroke-width="0.85" />
<line x1="252.16" y1="29.60" x2="252.16" y2="35.10" stroke="#000" stroke-width="0.85" />
<line x1="257.59" y1="274.95" x2="257.59" y2="269.45" stroke="#000" stroke-width="0.85" />
<line x1="257.59" y1="29.60" x2="257.59" y2="35.10" stroke="#000" stroke-width="0.85" />
<line x1="262.19" y1="274.95" x2="262.19" y2="269.45" stroke="#000" stroke-width="0.85" />
<line x1="262.19" y1="29.60" x2="262.19" y2="35.10" stroke="#000" stroke-width="0.85" />
<line x1="266.17" y1="274.95" x2="266.17" y2="269.45" stroke="#000" stroke-width="0.85" />
<line x1="266.17" y1="29.60" x2="266.17" y2="35.10" stroke="#000" stroke-width="0.85" />
<line x1="269.69" y1="274.95" x2="269.69" y2="269.45" stroke="#000" stroke-width="0.85" />
<line x1="269.69" y1="29.60" x2="269.69" y2="35.10" stroke="#000" stroke-width="0.85" />
<line x1="272.83" y1="274.95" x2="272.83" y2="264.15" stroke="#000" stroke-width="0.85" />
<line x1="272.83" y1="29.60" x2="272.83" y2="40.40" stroke="#000" stroke-width="0.85" />
<line x1="293.50" y1="274.95" x2="293.50" y2="269.45" stroke="#000" stroke-width="0.85" />
<line x1="293.50" y1="29.60" x2="293.50" y2="35.10" stroke="#000" stroke-width="0.85" />
<line x1="305.60" y1="274.95" x2="305.60" y2="269.45" stroke="#000" stroke-width="0.85" />
<line x1="305.60" y1="29.60" x2="305.60" y2="35.10" stroke="#000" stroke-width="0.85" />
<line x1="314.18" y1="274.95" x2="314.18" y2="269.45" stroke="#000" stroke-width="0.85" />
<line x1="314.18" y1="29.60" x2="314.18" y2="35.10" stroke="#000" stroke-width="0.85" />
<line x1="320.84" y1="274.95" x2="320.84" y2="269.45" stroke="#000" stroke-width="0.85" />
<line x1="320.84" y1="29.60" x2="320.84" y2="35.10" stroke="#000" stroke-width="0.85" />
<line x1="326.27" y1="274.95" x2="326.27" y2="269.45" stroke="#000" stroke-width="0.85" />
<line x1="326.27" y1="29.60" x2="326.27" y2="35.10" stroke="#000" stroke-width="0.85" />
<line x1="330.87" y1="274.95" x2="330.87" y2="269.45" stroke="#000" stroke-width="0.85" />
<line x1="330.87" y1="29.60" x2="330.87" y2="35.10" stroke="#000" stroke-width="0.85" />
<line x1="101.10" y1="268.34" x2="106.85" y2="268.34" stroke="#222" stroke-width="0.8" />
<line x1="334.45" y1="268.34" x2="328.70" y2="268.34" stroke="#222" stroke-width="0.8" />
<line x1="101.10" y1="261.91" x2="106.85" y2="261.91" stroke="#222" stroke-width="0.8" />
<line x1="334.45" y1="261.91" x2="328.70" y2="261.91" stroke="#222" stroke-width="0.8" />
<line x1="101.10" y1="256.66" x2="106.85" y2="256.66" stroke="#222" stroke-width="0.8" />
<line x1="334.45" y1="256.66" x2="328.70" y2="256.66" stroke="#222" stroke-width="0.8" />
<line x1="101.10" y1="252.22" x2="106.85" y2="252.22" stroke="#222" stroke-width="0.8" />
<line x1="334.45" y1="252.22" x2="328.70" y2="252.22" stroke="#222" stroke-width="0.8" />
<line x1="101.10" y1="248.38" x2="106.85" y2="248.38" stroke="#222" stroke-width="0.8" />
<line x1="334.45" y1="248.38" x2="328.70" y2="248.38" stroke="#222" stroke-width="0.8" />
<line x1="101.10" y1="244.98" x2="106.85" y2="244.98" stroke="#222" stroke-width="0.8" />
<line x1="334.45" y1="244.98" x2="328.70" y2="244.98" stroke="#222" stroke-width="0.8" />
<line x1="101.10" y1="241.95" x2="112.60" y2="241.95" stroke="#222" stroke-width="0.8" />
<line x1="334.45" y1="241.95" x2="322.95" y2="241.95" stroke="#222" stroke-width="0.8" />
<line x1="101.10" y1="221.99" x2="106.85" y2="221.99" stroke="#222" stroke-width="0.8" />
<line x1="334.45" y1="221.99" x2="328.70" y2="221.99" stroke="#222" stroke-width="0.8" />
<line x1="101.10" y1="210.31" x2="106.85" y2="210.31" stroke="#222" stroke-width="0.8" />
<line x1="334.45" y1="210.31" x2="328.70" y2="210.31" stroke="#222" stroke-width="0.8" />
<line x1="101.10" y1="202.02" x2="106.85" y2="202.02" stroke="#222" stroke-width="0.8" />
<line x1="334.45" y1="202.02" x2="328.70" y2="202.02" stroke="#222" stroke-width="0.8" />
<line x1="101.10" y1="195.59" x2="106.85" y2="195.59" stroke="#222" stroke-width="0.8" />
<line x1="334.45" y1="195.59" x2="328.70" y2="195.59" stroke="#222" stroke-width="0.8" />
<line x1="101.10" y1="190.34" x2="106.85" y2="190.34" stroke="#222" stroke-width="0.8" />
<line x1="334.45" y1="190.34" x2="328.70" y2="190.34" stroke="#222" stroke-width="0.8" />
<line x1="101.10" y1="185.90" x2="106.85" y2="185.90" stroke="#222" stroke-width="0.8" />
<line x1="334.45" y1="185.90" x2="328.70" y2="185.90" stroke="#222" stroke-width="0.8" />
<line x1="101.10" y1="182.06" x2="106.85" y2="182.06" stroke="#222" stroke-width="0.8" />
<line x1="334.45" y1="182.06" x2="328.70" y2="182.06" stroke="#222" stroke-width="0.8" />
<line x1="101.10" y1="178.66" x2="106.85" y2="178.66" stroke="#222" stroke-width="0.8" />
<line x1="334.45" y1="178.66" x2="328.70" y2="178.66" stroke="#222" stroke-width="0.8" />
<line x1="101.10" y1="175.63" x2="112.60" y2="175.63" stroke="#222" stroke-width="0.8" />
<line x1="334.45" y1="175.63" x2="322.95" y2="175.63" stroke="#222" stroke-width="0.8" />
<line x1="101.10" y1="155.67" x2="106.85" y2="155.67" stroke="#222" stroke-width="0.8" />
<line x1="334.45" y1="155.67" x2="328.70" y2="155.67" stroke="#222" stroke-width="0.8" />
<line x1="101.10" y1="143.99" x2="106.85" y2="143.99" stroke="#222" stroke-width="0.8" />
<line x1="334.45" y1="143.99" x2="328.70" y2="143.99" stroke="#222" stroke-width="0.8" />
<line x1="101.10" y1="135.70" x2="106.85" y2="135.70" stroke="#222" stroke-width="0.8" />
<line x1="334.45" y1="135.70" x2="328.70" y2="135.70" stroke="#222" stroke-width="0.8" />
<line x1="101.10" y1="129.27" x2="106.85" y2="129.27" stroke="#222" stroke-width="0.8" />
<line x1="334.45" y1="129.27" x2="328.70" y2="129.27" stroke="#222" stroke-width="0.8" />
<line x1="101.10" y1="124.02" x2="106.85" y2="124.02" stroke="#222" stroke-width="0.8" />
<line x1="334.45" y1="124.02" x2="328.70" y2="124.02" stroke="#222" stroke-width="0.8" />
<line x1="101.10" y1="119.58" x2="106.85" y2="119.58" stroke="#222" stroke-width="0.8" />
<line x1="334.45" y1="119.58" x2="328.70" y2="119.58" stroke="#222" stroke-width="0.8" />
<line x1="101.10" y1="115.74" x2="106.85" y2="115.74" stroke="#222" stroke-width="0.8" />
<line x1="334.45" y1="115.74" x2="328.70" y2="115.74" stroke="#222" stroke-width="0.8" />
<line x1="101.10" y1="112.34" x2="106.85" y2="112.34" stroke="#222" stroke-width="0.8" />
<line x1="334.45" y1="112.34" x2="328.70" y2="112.34" stroke="#222" stroke-width="0.8" />
<line x1="101.10" y1="109.31" x2="112.60" y2="109.31" stroke="#222" stroke-width="0.8" />
<line x1="334.45" y1="109.31" x2="322.95" y2="109.31" stroke="#222" stroke-width="0.8" />
<line x1="101.10" y1="89.35" x2="106.85" y2="89.35" stroke="#222" stroke-width="0.8" />
<line x1="334.45" y1="89.35" x2="328.70" y2="89.35" stroke="#222" stroke-width="0.8" />
<line x1="101.10" y1="77.67" x2="106.85" y2="77.67" stroke="#222" stroke-width="0.8" />
<line x1="334.45" y1="77.67" x2="328.70" y2="77.67" stroke="#222" stroke-width="0.8" />
<line x1="101.10" y1="69.38" x2="106.85" y2="69.38" stroke="#222" stroke-width="0.8" />
<line x1="334.45" y1="69.38" x2="328.70" y2="69.38" stroke="#222" stroke-width="0.8" />
<line x1="101.10" y1="62.95" x2="106.85" y2="62.95" stroke="#222" stroke-width="0.8" />
<line x1="334.45" y1="62.95" x2="328.70" y2="62.95" stroke="#222" stroke-width="0.8" />
<line x1="101.10" y1="57.70" x2="106.85" y2="57.70" stroke="#222" stroke-width="0.8" />
<line x1="334.45" y1="57.70" x2="328.70" y2="57.70" stroke="#222" stroke-width="0.8" />
<line x1="101.10" y1="53.26" x2="106.85" y2="53.26" stroke="#222" stroke-width="0.8" />
<line x1="334.45" y1="53.26" x2="328.70" y2="53.26" stroke="#222" stroke-width="0.8" />
<line x1="101.10" y1="49.42" x2="106.85" y2="49.42" stroke="#222" stroke-width="0.8" />
<line x1="334.45" y1="49.42" x2="328.70" y2="49.42" stroke="#222" stroke-width="0.8" />
<line x1="101.10" y1="46.02" x2="106.85" y2="46.02" stroke="#222" stroke-width="0.8" />
<line x1="334.45" y1="46.02" x2="328.70" y2="46.02" stroke="#222" stroke-width="0.8" />
<line x1="101.10" y1="42.99" x2="112.60" y2="42.99" stroke="#222" stroke-width="0.8" />
<line x1="334.45" y1="42.99" x2="322.95" y2="42.99" stroke="#222" stroke-width="0.8" />
<line x1="160.35" y1="92.40" x2="160.35" y2="100.70" stroke="#ff0000" stroke-width="0.95" />
<line x1="157.20" y1="92.40" x2="163.50" y2="92.40" stroke="#ff0000" stroke-width="0.75" />
<line x1="157.20" y1="100.70" x2="163.50" y2="100.70" stroke="#ff0000" stroke-width="0.75" />
<rect x="158.10" y="93.45" width="4.50" height="4.70" fill="#ff0000"/>
<line x1="175.75" y1="99.60" x2="175.75" y2="104.30" stroke="#ff0000" stroke-width="0.95" />
<line x1="172.60" y1="99.60" x2="178.90" y2="99.60" stroke="#ff0000" stroke-width="0.75" />
<line x1="172.60" y1="104.30" x2="178.90" y2="104.30" stroke="#ff0000" stroke-width="0.75" />
<rect x="173.50" y="99.55" width="4.50" height="4.70" fill="#ff0000"/>
<line x1="185.60" y1="108.60" x2="185.60" y2="113.30" stroke="#ff0000" stroke-width="0.95" />
<line x1="182.45" y1="108.60" x2="188.75" y2="108.60" stroke="#ff0000" stroke-width="0.75" />
<line x1="182.45" y1="113.30" x2="188.75" y2="113.30" stroke="#ff0000" stroke-width="0.75" />
<rect x="183.35" y="108.55" width="4.50" height="4.70" fill="#ff0000"/>
<line x1="193.05" y1="108.80" x2="193.05" y2="116.40" stroke="#ff0000" stroke-width="0.95" />
<line x1="189.90" y1="108.80" x2="196.20" y2="108.80" stroke="#ff0000" stroke-width="0.75" />
<line x1="189.90" y1="116.40" x2="196.20" y2="116.40" stroke="#ff0000" stroke-width="0.75" />
<rect x="190.80" y="110.05" width="4.50" height="4.70" fill="#ff0000"/>
<line x1="201.62" y1="116.20" x2="201.62" y2="119.80" stroke="#ff0000" stroke-width="0.95" />
<line x1="198.47" y1="116.20" x2="204.78" y2="116.20" stroke="#ff0000" stroke-width="0.75" />
<line x1="198.47" y1="119.80" x2="204.78" y2="119.80" stroke="#ff0000" stroke-width="0.75" />
<rect x="199.38" y="115.65" width="4.50" height="4.70" fill="#ff0000"/>
<line x1="210.25" y1="118.00" x2="210.25" y2="122.20" stroke="#ff0000" stroke-width="0.95" />
<line x1="207.10" y1="118.00" x2="213.40" y2="118.00" stroke="#ff0000" stroke-width="0.75" />
<line x1="207.10" y1="122.20" x2="213.40" y2="122.20" stroke="#ff0000" stroke-width="0.75" />
<rect x="208.00" y="117.65" width="4.50" height="4.70" fill="#ff0000"/>
<line x1="219.75" y1="124.50" x2="219.75" y2="128.00" stroke="#ff0000" stroke-width="0.95" />
<line x1="216.60" y1="124.50" x2="222.90" y2="124.50" stroke="#ff0000" stroke-width="0.75" />
<line x1="216.60" y1="128.00" x2="222.90" y2="128.00" stroke="#ff0000" stroke-width="0.75" />
<rect x="217.50" y="123.90" width="4.50" height="4.70" fill="#ff0000"/>
<line x1="231.00" y1="129.00" x2="231.00" y2="132.50" stroke="#ff0000" stroke-width="0.95" />
<line x1="227.85" y1="129.00" x2="234.15" y2="129.00" stroke="#ff0000" stroke-width="0.75" />
<line x1="227.85" y1="132.50" x2="234.15" y2="132.50" stroke="#ff0000" stroke-width="0.75" />
<rect x="228.75" y="128.40" width="4.50" height="4.70" fill="#ff0000"/>
<line x1="241.00" y1="135.80" x2="241.00" y2="139.20" stroke="#ff0000" stroke-width="0.95" />
<line x1="237.85" y1="135.80" x2="244.15" y2="135.80" stroke="#ff0000" stroke-width="0.75" />
<line x1="237.85" y1="139.20" x2="244.15" y2="139.20" stroke="#ff0000" stroke-width="0.75" />
<rect x="238.75" y="135.15" width="4.50" height="4.70" fill="#ff0000"/>
<line x1="250.75" y1="140.80" x2="250.75" y2="144.20" stroke="#ff0000" stroke-width="0.95" />
<line x1="247.60" y1="140.80" x2="253.90" y2="140.80" stroke="#ff0000" stroke-width="0.75" />
<line x1="247.60" y1="144.20" x2="253.90" y2="144.20" stroke="#ff0000" stroke-width="0.75" />
<rect x="248.50" y="140.15" width="4.50" height="4.70" fill="#ff0000"/>
<line x1="260.38" y1="148.30" x2="260.38" y2="151.70" stroke="#ff0000" stroke-width="0.95" />
<line x1="257.23" y1="148.30" x2="263.52" y2="148.30" stroke="#ff0000" stroke-width="0.75" />
<line x1="257.23" y1="151.70" x2="263.52" y2="151.70" stroke="#ff0000" stroke-width="0.75" />
<rect x="258.12" y="147.65" width="4.50" height="4.70" fill="#ff0000"/>
<line x1="270.25" y1="153.80" x2="270.25" y2="157.20" stroke="#ff0000" stroke-width="0.95" />
<line x1="267.10" y1="153.80" x2="273.40" y2="153.80" stroke="#ff0000" stroke-width="0.75" />
<line x1="267.10" y1="157.20" x2="273.40" y2="157.20" stroke="#ff0000" stroke-width="0.75" />
<rect x="268.00" y="153.15" width="4.50" height="4.70" fill="#ff0000"/>
<line x1="280.25" y1="163.30" x2="280.25" y2="166.70" stroke="#ff0000" stroke-width="0.95" />
<line x1="277.10" y1="163.30" x2="283.40" y2="163.30" stroke="#ff0000" stroke-width="0.75" />
<line x1="277.10" y1="166.70" x2="283.40" y2="166.70" stroke="#ff0000" stroke-width="0.75" />
<rect x="278.00" y="162.65" width="4.50" height="4.70" fill="#ff0000"/>
<line x1="290.00" y1="176.25" x2="290.00" y2="184.80" stroke="#ff0000" stroke-width="0.95" />
<line x1="286.85" y1="176.25" x2="293.15" y2="176.25" stroke="#ff0000" stroke-width="0.75" />
<line x1="286.85" y1="184.80" x2="293.15" y2="184.80" stroke="#ff0000" stroke-width="0.75" />
<rect x="287.75" y="178.15" width="4.50" height="4.70" fill="#ff0000"/>
<line x1="299.88" y1="190.00" x2="299.88" y2="208.00" stroke="#ff0000" stroke-width="0.95" />
<line x1="296.73" y1="190.00" x2="303.02" y2="190.00" stroke="#ff0000" stroke-width="0.75" />
<line x1="296.73" y1="208.00" x2="303.02" y2="208.00" stroke="#ff0000" stroke-width="0.75" />
<rect x="297.62" y="195.15" width="4.50" height="4.70" fill="#ff0000"/>
<line x1="309.62" y1="199.75" x2="309.62" y2="274.95" stroke="#ff0000" stroke-width="0.95" />
<line x1="306.48" y1="199.75" x2="312.77" y2="199.75" stroke="#ff0000" stroke-width="0.75" />
<rect x="307.38" y="223.15" width="4.50" height="4.70" fill="#ff0000"/>
<line x1="319.50" y1="211.25" x2="319.50" y2="274.95" stroke="#ff0000" stroke-width="0.95" />
<line x1="316.35" y1="211.25" x2="322.65" y2="211.25" stroke="#ff0000" stroke-width="0.75" />
<rect x="317.25" y="238.15" width="4.50" height="4.70" fill="#ff0000"/>
<line x1="329.50" y1="244.50" x2="329.50" y2="274.95" stroke="#ff0000" stroke-width="0.95" />
<line x1="326.35" y1="244.50" x2="332.65" y2="244.50" stroke="#ff0000" stroke-width="0.75" />
<line x1="127.50" y1="58.80" x2="127.50" y2="77.20" stroke="#ff0000" stroke-width="0.95" />
<line x1="122.50" y1="77.20" x2="132.50" y2="77.20" stroke="#ff0000" stroke-width="0.95" />
<path d="M122.50,66.80 L127.50,58.80 L132.65,66.80" fill="none" stroke="#ff0000" stroke-width="0.95"  />
</g>
<g class="t" filter="url(#gs)">
<path d="M163.80,42.84 A8.25,6.4 0 1 0 180.30,42.84 A8.25,6.4 0 1 0 163.80,42.84Z M166.55,42.84 A5.5,5.5 0 1 0 177.55,42.84 A5.5,5.5 0 1 0 166.55,42.84Z" fill="#000" fill-rule="evenodd"/>
<path d="M142.40,42.84 A8.25,6.4 0 1 0 158.90,42.84 A8.25,6.4 0 1 0 142.40,42.84Z M145.15,42.84 A5.5,5.5 0 1 0 156.15,42.84 A5.5,5.5 0 1 0 145.15,42.84Z" fill="#000" fill-rule="evenodd"/>
<path d="M121.00,42.84 A8.25,6.4 0 1 0 137.50,42.84 A8.25,6.4 0 1 0 121.00,42.84Z M123.75,42.84 A5.5,5.5 0 1 0 134.75,42.84 A5.5,5.5 0 1 0 123.75,42.84Z" fill="#000" fill-rule="evenodd"/>
<path d="M106.75,36.89 L109.45,36.69 L109.45,48.14 Q109.45,48.34 113.05,48.39 L113.05,49.24 L103.15,49.24 L103.15,48.39 Q106.75,48.34 106.75,48.14 L106.75,38.04 L103.20,39.14 L103.20,38.54 Z" fill="#000"/>
<path d="M163.80,109.16 A8.25,6.4 0 1 0 180.30,109.16 A8.25,6.4 0 1 0 163.80,109.16Z M166.55,109.16 A5.5,5.5 0 1 0 177.55,109.16 A5.5,5.5 0 1 0 166.55,109.16Z" fill="#000" fill-rule="evenodd"/>
<path d="M142.40,109.16 A8.25,6.4 0 1 0 158.90,109.16 A8.25,6.4 0 1 0 142.40,109.16Z M145.15,109.16 A5.5,5.5 0 1 0 156.15,109.16 A5.5,5.5 0 1 0 145.15,109.16Z" fill="#000" fill-rule="evenodd"/>
<path d="M128.15,103.21 L130.85,103.01 L130.85,114.46 Q130.85,114.66 134.45,114.71 L134.45,115.56 L124.55,115.56 L124.55,114.71 Q128.15,114.66 128.15,114.46 L128.15,104.36 L124.60,105.46 L124.60,104.86 Z" fill="#000"/>
<path d="M163.80,175.48 A8.25,6.4 0 1 0 180.30,175.48 A8.25,6.4 0 1 0 163.80,175.48Z M166.55,175.48 A5.5,5.5 0 1 0 177.55,175.48 A5.5,5.5 0 1 0 166.55,175.48Z" fill="#000" fill-rule="evenodd"/>
<path d="M149.55,169.53 L152.25,169.33 L152.25,180.78 Q152.25,180.98 155.85,181.03 L155.85,181.88 L145.95,181.88 L145.95,181.03 Q149.55,180.98 149.55,180.78 L149.55,170.68 L146.00,171.78 L146.00,171.18 Z" fill="#000"/>
<path d="M171.15,235.85 L173.85,235.65 L173.85,247.10 Q173.85,247.30 177.45,247.35 L177.45,248.20 L167.55,248.20 L167.55,247.35 Q171.15,247.30 171.15,247.10 L171.15,237.00 L167.60,238.10 L167.60,237.50 Z" fill="#000"/>
<path d="M246.55,290.30 A8.25,6.4 0 1 0 263.05,290.30 A8.25,6.4 0 1 0 246.55,290.30Z M249.30,290.30 A5.5,5.5 0 1 0 260.30,290.30 A5.5,5.5 0 1 0 249.30,290.30Z" fill="#000" fill-rule="evenodd"/>
<ellipse cx="270.85" cy="295.60" rx="2.1" ry="1.15" fill="#000"/>
<path d="M286.25,284.35 L288.95,284.15 L288.95,295.60 Q288.95,295.80 292.55,295.85 L292.55,296.70 L282.65,296.70 L282.65,295.85 Q286.25,295.80 286.25,295.60 L286.25,285.50 L282.70,286.60 L282.70,286.00 Z" fill="#000"/>
<path d="M407.55,284.35 L410.25,284.15 L410.25,295.60 Q410.25,295.80 413.85,295.85 L413.85,296.70 L403.95,296.70 L403.95,295.85 Q407.55,295.80 407.55,295.60 L407.55,285.50 L404.00,286.60 L404.00,286.00 Z" fill="#000"/>
<path d="M533.95,284.35 L536.65,284.15 L536.65,295.60 Q536.65,295.80 540.25,295.85 L540.25,296.70 L530.35,296.70 L530.35,295.85 Q533.95,295.80 533.95,295.60 L533.95,285.50 L530.40,286.60 L530.40,286.00 Z" fill="#000"/>
<path d="M547.95,290.30 A8.25,6.4 0 1 0 564.45,290.30 A8.25,6.4 0 1 0 547.95,290.30Z M550.70,290.30 A5.5,5.5 0 1 0 561.70,290.30 A5.5,5.5 0 1 0 550.70,290.30Z" fill="#000" fill-rule="evenodd"/>
<clipPath id="c1"><text transform="translate(365.20,319.30) scale(2.776,1)" x="-0.270" y="0" font-size="18.0">r</text></clipPath><g clip-path="url(#c1)"><text transform="translate(365.20,319.30) scale(2.776,1)" x="-0.450" y="0" font-size="18.0">r</text></g>
<clipPath id="c2"><text transform="translate(413.00,320.30) scale(1.608,1)" x="-1.440" y="0" font-size="21.5">[</text></clipPath><g clip-path="url(#c2)"><text transform="translate(413.00,320.30) scale(1.608,1)" x="-1.751" y="0" font-size="21.5">[</text></g>
<clipPath id="c3"><text transform="translate(426.40,319.30) scale(1.511,1)" x="-0.353" y="0" font-size="18.0">M</text></clipPath><g clip-path="url(#c3)"><text transform="translate(426.40,319.30) scale(1.511,1)" x="-0.684" y="0" font-size="18.0">M</text></g>
<clipPath id="c4"><text transform="translate(453.80,319.30) scale(2.423,1)" x="-0.187" y="0" font-size="18.0">p</text></clipPath><g clip-path="url(#c4)"><text transform="translate(453.80,319.30) scale(2.423,1)" x="-0.393" y="0" font-size="18.0">p</text></g>
<clipPath id="c5"><text transform="translate(476.00,319.30) scale(2.370,1)" x="-0.580" y="0" font-size="18.0">c</text></clipPath><g clip-path="url(#c5)"><text transform="translate(476.00,319.30) scale(2.370,1)" x="-0.791" y="0" font-size="18.0">c</text></g>
<clipPath id="c6"><text transform="translate(497.60,320.30) scale(1.671,1)" x="-0.627" y="0" font-size="21.5">]</text></clipPath><g clip-path="url(#c6)"><text transform="translate(497.60,320.30) scale(1.671,1)" x="-0.926" y="0" font-size="21.5">]</text></g>
<path d="M40.5,197.4 L40.5,199.7 M40.7,198.5 C43.2,198.8 44.8,202.0 49,202.0 C53,202.0 55.0,199.6 55.7,197.7 C56.2,200.2 57.6,202.2 60.9,202.2 C64.6,202.2 65.4,197.8 68.2,197.9 C69.6,198 70.3,198.9 70.4,200.1" fill="none" stroke="#000" stroke-width="1.25" stroke-linecap="round"/>
<line x1="35.45" y1="204.15" x2="35.45" y2="194.80" stroke="#000" stroke-width="1.6"/>
<text transform="translate(74.00,194.80) scale(2,1) rotate(-90) scale(1.099,1)" x="-0.46" y="0" font-size="10.6" class="sub">g</text>
<path d="M36,182.8 Q53.1,190.9 70.2,182.8" fill="none" stroke="#000" stroke-width="1.15"/>
<text transform="translate(63.70,180.50) scale(2,1) rotate(-90) scale(1.315,1)" x="-0.36" y="0" font-size="18.0" >r</text>
<text transform="translate(74.00,171.80) scale(2,1) rotate(-90) scale(0.790,1)" x="-0.20" y="0" font-size="11.2" class="sub">T</text>
<path d="M36,164.6 Q53.1,157.9 70.2,164.6" fill="none" stroke="#000" stroke-width="1.15"/>
<text transform="translate(65.70,147.90) scale(2,1) rotate(-90) scale(0.794,1)" x="-1.60" y="0" font-size="21.5" >[</text>
<text transform="translate(63.70,141.70) scale(2,1) rotate(-90) scale(0.739,1)" x="-0.52" y="0" font-size="18.0" >M</text>
<text transform="translate(63.70,127.50) scale(2,1) rotate(-90) scale(1.099,1)" x="-0.29" y="0" font-size="18.0" >p</text>
<text transform="translate(63.70,116.75) scale(2,1) rotate(-90) scale(1.133,1)" x="-0.69" y="0" font-size="18.0" >c</text>
<text transform="translate(65.70,106.20) scale(2,1) rotate(-90) scale(0.898,1)" x="-0.78" y="0" font-size="21.5" >]</text>
</g>
</svg>
</body></html>
